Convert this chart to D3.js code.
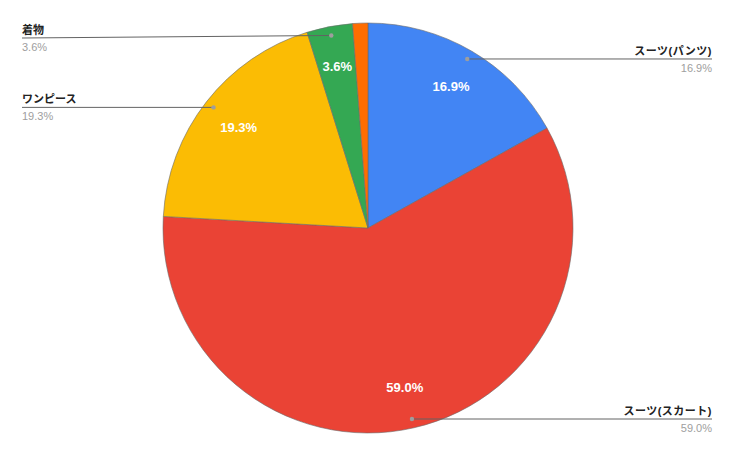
<!DOCTYPE html>
<html><head><meta charset="utf-8">
<script src="https://cdn.jsdelivr.net/npm/d3@7/dist/d3.min.js"></script>
<style>body{margin:0;background:#fff;font-family:Arial,"Liberation Sans","Noto Sans CJK JP",sans-serif;}</style>
</head><body><svg id="c" width="736" height="455"></svg>
<script>
const categories = ["スーツ(パンツ)", "スーツ(スカート)", "ワンピース", "着物", "その他"];
const values = [16.9, 59.0, 19.3, 3.6, 1.2];
const showLabel = [true, true, true, true, false];
const colors = ["#4285F4", "#EA4335", "#FBBC04", "#34A853", "#FF6D01"];

const svg = d3.select("#c");
const cx = 368, cy = 228, R = 205;
const g = svg.append("g").attr("transform", `translate(${cx},${cy})`);
const pie = d3.pie().sort(null).value(d => d)(values);
const arc = d3.arc().innerRadius(0).outerRadius(R);
const labelArc = d3.arc().innerRadius(164).outerRadius(164);
const dotArc = d3.arc().innerRadius(196).outerRadius(196);

g.selectAll("path.slice").data(pie).join("path")
  .attr("d", arc).attr("fill", (d, i) => colors[i])
  .attr("stroke", "#6b6b6b").attr("stroke-width", 0.6);

g.selectAll("text.in").data(pie.filter((d, i) => showLabel[i])).join("text")
  .attr("transform", d => `translate(${labelArc.centroid(d)})`)
  .attr("text-anchor", "middle").attr("dy", "0.35em")
  .attr("fill", "#fff").attr("font-weight", "bold").attr("font-size", 13)
  .text(d => d.value.toFixed(1) + "%");

// leader labels
pie.forEach((d, i) => {
  if (!showLabel[i]) return;
  const [dx, dy] = dotArc.centroid(d);
  const px = cx + dx, py = cy + dy;
  const right = (d.startAngle + d.endAngle) / 2 < Math.PI;
  const ly = Math.max(py, 38);
  const ex = right ? 712 : 22;
  svg.append("line").attr("x1", px).attr("y1", py).attr("x2", ex).attr("y2", ly)
    .attr("stroke", "#636363").attr("stroke-width", 1);
  svg.append("circle").attr("cx", px).attr("cy", py).attr("r", 2.2).attr("fill", "#9e9e9e");
  svg.append("text").attr("x", ex).attr("y", ly - 4)
    .attr("text-anchor", right ? "end" : "start")
    .attr("font-size", 11).attr("font-weight", "bold").attr("fill", "#222")
    .attr("letter-spacing", right ? 0.5 : 0)
    .text(categories[i]);
  svg.append("text").attr("x", ex).attr("y", ly + 13)
    .attr("text-anchor", right ? "end" : "start")
    .attr("font-size", 11).attr("fill", "#9e9e9e")
    .text(d.value.toFixed(1) + "%");
});
</script></body></html>
